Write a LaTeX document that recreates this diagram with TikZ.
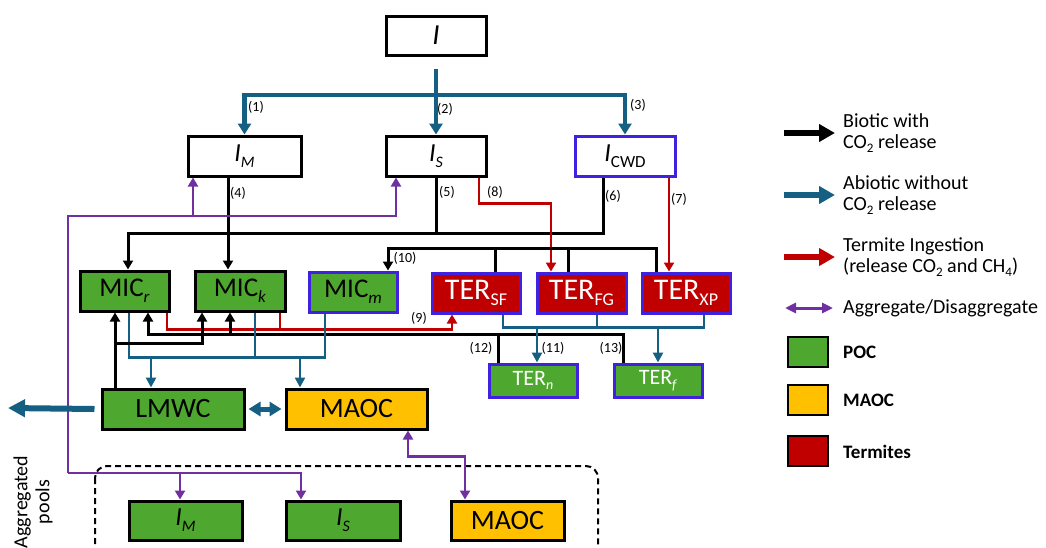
\documentclass[tikz,border=0pt]{standalone}
\usepackage{fontspec}
\setmainfont{Carlito}
\usetikzlibrary{arrows.meta}
\definecolor{pocG}{HTML}{4EA72E}
\definecolor{maocY}{HTML}{FFC000}
\definecolor{termR}{HTML}{C00000}
\definecolor{edgeB}{HTML}{3F22E0}
\definecolor{abioT}{HTML}{156082}
\definecolor{aggP}{HTML}{7030A0}
\newcommand{\fs}[1]{\fontsize{#1}{#1}\selectfont}
\newcommand{\dn}[2]{\raisebox{-0.22em}{\fs{#1}#2}}
\tikzset{
  pool/.style={draw=black, line width=3pt, minimum height=40pt,
               inner sep=0pt, font=\fs{27}},
  inbox/.style={pool, fill=white},
  pocbox/.style={pool, fill=pocG},
  maocbox/.style={pool, fill=maocY, font=\fs{28}},
  termbox/.style={pool, draw=edgeB, fill=termR, text=white, font=\fs{30}},
  bioflow/.style={-{Triangle[length=9pt,width=10pt]}, line width=3pt, color=black},
  bioline/.style={line width=3pt, color=black},
  abioflow/.style={-{Triangle[length=10pt,width=10pt]}, line width=2.8pt, color=abioT},
  abioline/.style={line width=2.8pt, color=abioT},
  inflow/.style={-{Triangle[length=11pt,width=13pt]}, line width=4.5pt, color=abioT},
  termflow/.style={-{Triangle[length=9pt,width=10pt]}, line width=2.6pt, color=termR},
  termline/.style={line width=2.6pt, color=termR},
  aggflow/.style={-{Triangle[length=9pt,width=10pt]}, line width=2.6pt, color=aggP},
  aggline/.style={line width=2.6pt, color=aggP},
  num/.style={font=\fs{14}, inner sep=0pt},
  legtxt/.style={font=\fs{20}, inner sep=0pt, anchor=west, align=left},
  legbold/.style={font=\bfseries\fs{19}, inner sep=0pt, anchor=west},
  legsq/.style={draw=black, line width=2.5pt, minimum width=40pt, minimum height=30pt, inner sep=0pt},
}
\begin{document}
\begin{tikzpicture}[x=1pt,y=-1pt]
  \useasboundingbox (0,0) rectangle (1046,547);
  \clip (0,0) rectangle (1046,547);

  % input pools
  \node[inbox, minimum width=100, minimum height=39, font=\fs{29}] (I) at (436,35.5) {\textit{I}};
  \node[inbox, minimum width=113, font=\fs{26}] (IM) at (244.5,156) {\textit{I}\dn{16}{\textit{M}}};
  \node[inbox, minimum width=100, font=\fs{26}] (IS) at (436,156) {\textit{I}\dn{16}{\textit{S}}};
  \node[inbox, draw=edgeB, minimum width=100, font=\fs{26}] (ICWD) at (625,156) {\textit{I}\dn{17}{CWD}};

  % microbes and termites
  \node[pocbox, minimum width=89] (MICr) at (124.5,291) {MIC\dn{17}{\textit{r}}};
  \node[pocbox, minimum width=90] (MICk) at (240,291) {MIC\dn{17}{\textit{k}}};
  \node[pocbox, draw=edgeB, minimum width=88] (MICm) at (353,292) {MIC\dn{17}{\textit{m}}};
  \node[termbox, minimum width=88] (TERsf) at (476,293) {TER\dn{18}{SF}};
  \node[termbox, minimum width=89] (TERfg) at (581.5,293) {TER\dn{18}{FG}};
  \node[termbox, minimum width=88] (TERxp) at (686,293) {TER\dn{18}{XP}};
  \node[pocbox, draw=edgeB, text=white, minimum width=88, minimum height=33, font=\fs{22}] (TERn) at (533,380.5) {TER\dn{14}{\textit{n}}};
  \node[pocbox, draw=edgeB, text=white, minimum width=88, minimum height=33, font=\fs{22}] (TERf) at (658,380.5) {TER\dn{14}{\textit{f}}};

  % soluble and mineral pools
  \node[pocbox, minimum width=142, font=\fs{28}] (LMWC) at (173,409) {LMWC};
  \node[maocbox, minimum width=141] (MAOC) at (356.5,409) {MAOC};

  % aggregated pools
  \draw[line width=2pt, dash pattern=on 6pt off 4pt, rounded corners=12pt] (95,466) rectangle (598,575);
  \node[pocbox, minimum width=113, minimum height=39, font=\fs{26}] (aIM) at (185.5,520.5) {\textit{I}\dn{16}{\textit{M}}};
  \node[pocbox, minimum width=114, minimum height=39, font=\fs{26}] (aIS) at (343,520.5) {\textit{I}\dn{16}{\textit{S}}};
  \node[maocbox, minimum width=113, minimum height=39] (aMAOC) at (507.5,520.5) {MAOC};
  \node[rotate=90, align=center, font=\fs{20}, inner sep=0pt] (aggLbl) at (33,502) {Aggregated\\[2pt]pools};

  % inputs split
  \coordinate (split) at (436,95);
  \draw[inflow] ([yshift=-12]I.south) -- (IS.north);
  \draw[inflow] (split) -| (IM.north);
  \draw[inflow] (split) -| (ICWD.north);
  \node[num] (n1) at (256,107) {(1)};
  \node[num] (n2) at (445,109) {(2)};
  \node[num] (n3) at (638,105) {(3)};

  % litter to microbes
  \draw[bioflow] ([xshift=-16.5]IM.south) -- ([xshift=-12]MICk.north);
  \draw[bioline] (IS.south) -- ++(0,56);
  \draw[bioflow] ([xshift=-22]ICWD.south) -- ++(0,56) -| ([xshift=3.5]MICr.north);
  \node[num] (n4) at (238,193) {(4)};
  \node[num] (n5) at (447,192) {(5)};
  \node[num] (n6) at (613,196) {(6)};

  % termite ingestion
  \draw[termflow] ([xshift=43]IS.south) -- ++(0,26) -| ([xshift=-30.5]TERfg.north);
  \draw[termflow] ([xshift=44]ICWD.south) -- ([xshift=-17]TERxp.north);
  \node[num] (n8) at (495,192) {(8)};
  \node[num] (n7) at (679,199) {(7)};

  % termites to MIC_m
  \draw[bioflow] ([xshift=-30]TERxp.north) -- ++(0,-23) -| ([xshift=35]MICm.north);
  \draw[bioline] ([xshift=19]TERsf.north) -- ++(0,-23);
  \draw[bioline] ([xshift=-13.5]TERfg.north) -- ++(0,-23);
  \node[num] (n10) at (405,258) {(10)};

  % aggregate / disaggregate
  \coordinate (aggL) at (68,216);
  \coordinate (aggB) at (68,473);
  \draw[aggflow] (aggB) -- (aggL) -| ([xshift=-40]IS.south);
  \draw[aggflow] (aggL) -| ([xshift=-51.5]IM.south);
  \draw[aggflow] (aggB) -| ([xshift=-5.5]aIM.north);
  \draw[aggflow] (aggB) -| ([xshift=-42]aIS.north);
  \draw[aggline, {Triangle[length=9pt,width=10pt]}-{Triangle[length=9pt,width=10pt]}]
    ([xshift=51.5]MAOC.south) -- ++(0,26) -| ([xshift=-42.5]aMAOC.north);

  % microbes ingested by termites
  \draw[termflow] ([xshift=42.5]MICr.south) -- ++(0,17) -| ([xshift=-24]TERsf.south);
  \draw[termline] ([xshift=40]MICk.south) -- ++(0,17);
  \node[num] (n9) at (419,318) {(9)};

  % termite necromass and feces
  \coordinate (tkJ) at (230,335);
  \draw[bioflow] ([xshift=-35]TERf.north) -- ++(0,-28) -| ([xshift=23.5]MICr.south);
  \draw[bioline] ([xshift=-35]TERn.north) -- ++(0,-28);
  \draw[bioflow] (tkJ) -- ([xshift=-10]MICk.south);
  \coordinate (tnJ) at (537,327);
  \coordinate (tfJ) at (658,327);
  \draw[abioline] ([xshift=27]TERsf.south) -- ++(0,13) -| ([xshift=18]TERxp.south);
  \draw[abioline] ([xshift=15.5]TERfg.south) -- ++(0,13);
  \draw[abioflow] (tnJ) -- ([xshift=4]TERn.north);
  \draw[abioflow] (tfJ) -- (TERf.north);
  \node[num] (n12) at (481,348) {(12)};
  \node[num] (n11) at (553,348) {(11)};
  \node[num] (n13) at (611,348) {(13)};

  % microbial necromass
  \coordinate (blJ) at (151,357);
  \coordinate (bmJ) at (300,357);
  \draw[abioline] ([xshift=4.5]MICr.south) -- ++(0,45) -| ([xshift=-28]MICm.south);
  \draw[abioline] ([xshift=15]MICk.south) -- ++(0,45);
  \draw[abioflow] (blJ) -- ([xshift=-22]LMWC.north);
  \draw[abioflow] (bmJ) -- ([xshift=-56.5]MAOC.north);

  % uptake of LMWC
  \coordinate (lmJ) at (115,343);
  \draw[bioflow] ([xshift=-58]LMWC.north) -- ([xshift=-9.5]MICr.south);
  \draw[bioflow] (lmJ) -| ([xshift=-38]MICk.south);

  % LMWC exchange and loss
  \coordinate (out) at (8,408);
  \draw[line width=6pt, color=abioT, -{Triangle[length=17pt,width=17pt]}] ([xshift=-6]LMWC.west) -- (out);
  \draw[line width=5pt, color=abioT, {Triangle[length=12pt,width=14pt]}-{Triangle[length=12pt,width=14pt]}]
    ([xshift=3]LMWC.east) -- ([xshift=-3]MAOC.west);

  % legend
  \node[legtxt] (lgBio) at (843,133) {Biotic with\\[1pt]CO\dn{13}{2} release};
  \node[legtxt] (lgAbio) at (843,195) {Abiotic without\\[1pt]CO\dn{13}{2} release};
  \node[legtxt] (lgTerm) at (843,257) {Termite Ingestion\\[1pt](release CO\dn{13}{2} and CH\dn{13}{4})};
  \node[legtxt] (lgAgg) at (843,308) {Aggregate/Disaggregate};
  \draw[line width=6pt, -{Triangle[length=16pt,width=17pt]}] ([xshift=-59]lgBio.west) -- ([xshift=-8]lgBio.west);
  \draw[line width=6pt, color=abioT, -{Triangle[length=16pt,width=17pt]}] ([xshift=-59]lgAbio.west) -- ([xshift=-8]lgAbio.west);
  \draw[line width=6pt, color=termR, -{Triangle[length=16pt,width=17pt]}] ([xshift=-59]lgTerm.west) -- ([xshift=-8]lgTerm.west);
  \draw[line width=3pt, color=aggP, {Triangle[length=11pt,width=10pt]}-{Triangle[length=11pt,width=10pt]}] ([xshift=-58]lgAgg.west) -- ([xshift=-10]lgAgg.west);
  \node[legsq, fill=pocG] (sqPOC) at (808,352) {};
  \node[legsq, fill=maocY] (sqMAOC) at (808,400) {};
  \node[legsq, fill=termR] (sqTerm) at (808,451) {};
  \node[legbold] (lgPOC) at (843,352) {POC};
  \node[legbold] (lgMAOC) at (843,400) {MAOC};
  \node[legbold] (lgTermites) at (843,452) {Termites};
\end{tikzpicture}
\end{document}
